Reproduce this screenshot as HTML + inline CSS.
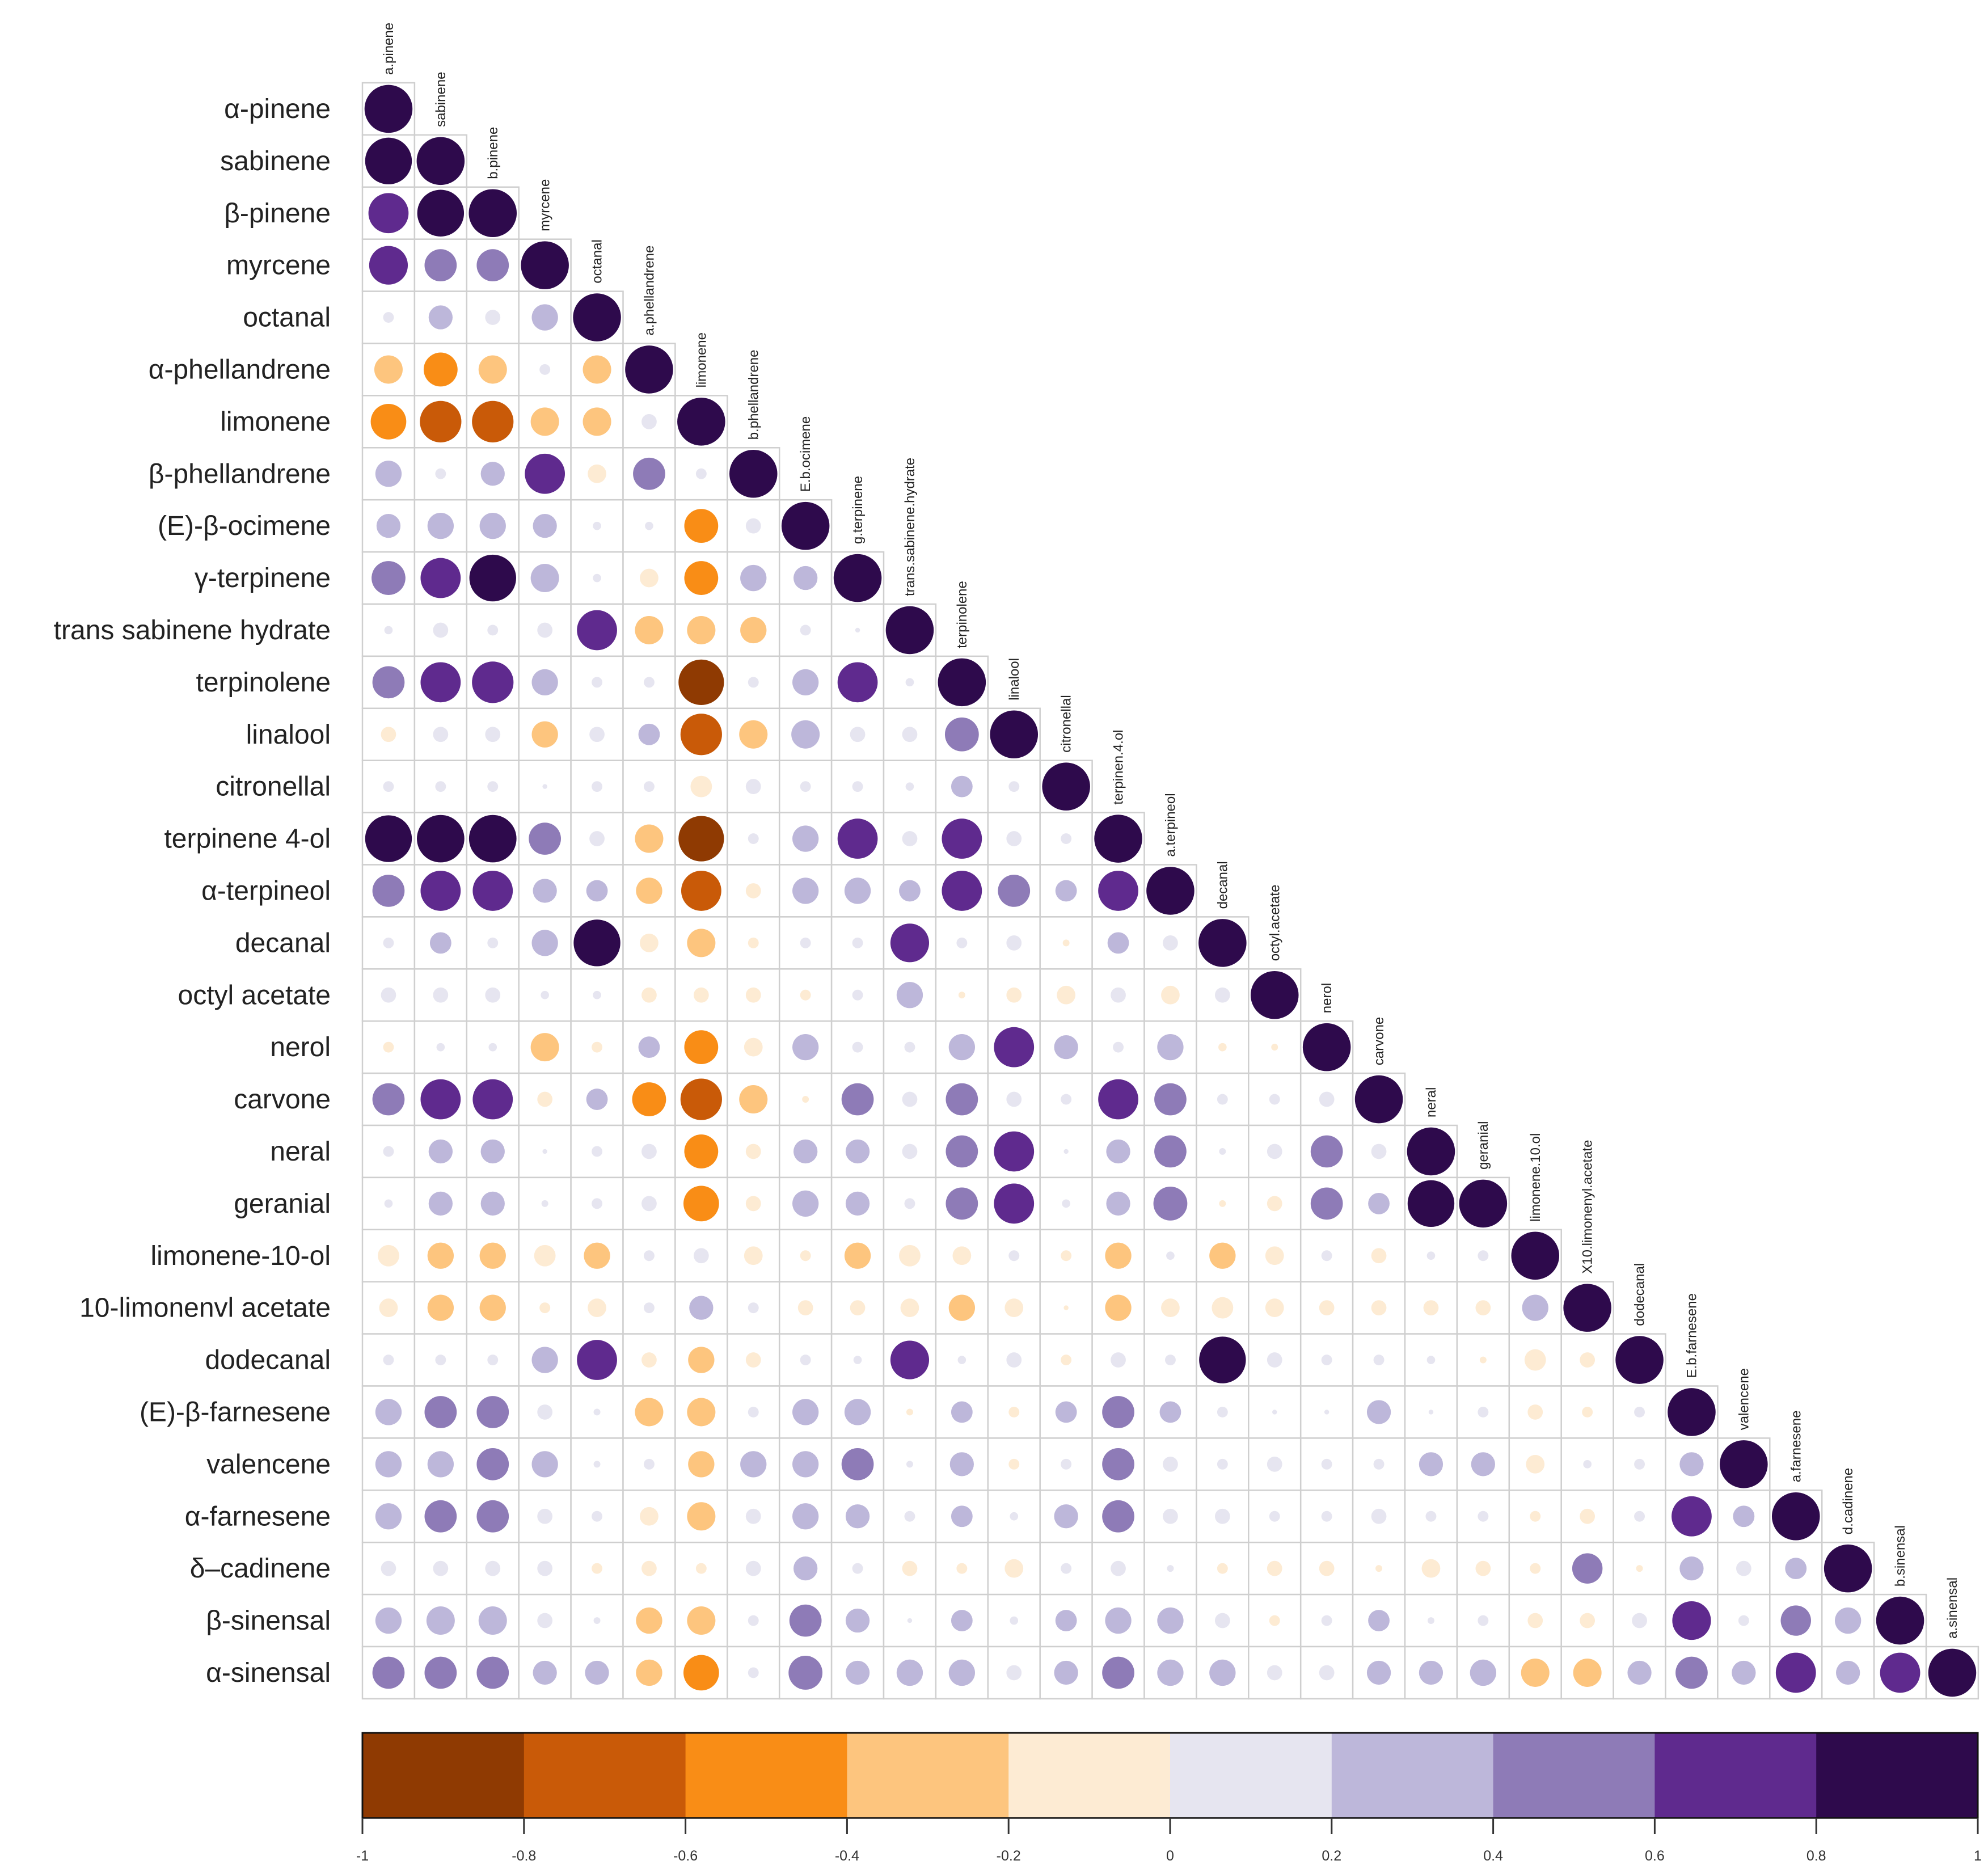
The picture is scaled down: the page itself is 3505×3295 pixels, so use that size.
<!DOCTYPE html>
<html><head><meta charset="utf-8"><style>
html,body{margin:0;padding:0;background:#fff;}
svg{display:block;}
</style></head><body>
<svg id="chart" width="3505" height="3295" viewBox="0 0 3505 3295" xmlns="http://www.w3.org/2000/svg"></svg>
<script>
const rowLabels = ["α-pinene","sabinene","β-pinene","myrcene","octanal","α-phellandrene","limonene","β-phellandrene","(E)-β-ocimene","γ-terpinene","trans sabinene hydrate","terpinolene","linalool","citronellal","terpinene 4-ol","α-terpineol","decanal","octyl acetate","nerol","carvone","neral","geranial","limonene-10-ol","10-limonenvl acetate","dodecanal","(E)-β-farnesene","valencene","α-farnesene","δ–cadinene","β-sinensal","α-sinensal"];
const colLabels = ["a.pinene","sabinene","b.pinene","myrcene","octanal","a.phellandrene","limonene","b.phellandrene","E.b.ocimene","g.terpinene","trans.sabinene.hydrate","terpinolene","linalool","citronellal","terpinen.4.ol","a.terpineol","decanal","octyl.acetate","nerol","carvone","neral","geranial","limonene.10.ol","X10.limonenyl.acetate","dodecanal","E.b.farnesene","valencene","a.farnesene","d.cadinene","b.sinensal","a.sinensal"];
const corr = [
[1],
[0.95,1],
[0.7,0.95,1],
[0.65,0.45,0.45,1],
[0.05,0.25,0.1,0.3,1],
[-0.35,-0.5,-0.35,0.05,-0.35,1],
[-0.55,-0.75,-0.75,-0.35,-0.35,0.1,1],
[0.3,0.05,0.25,0.7,-0.15,0.45,0.05,1],
[0.25,0.3,0.3,0.25,0.03,0.03,-0.5,0.1,1],
[0.5,0.7,0.95,0.35,0.03,-0.15,-0.5,0.3,0.25,1],
[0.03,0.1,0.05,0.1,0.7,-0.35,-0.35,-0.3,0.05,0.01,1],
[0.45,0.7,0.75,0.3,0.05,0.05,-0.9,0.05,0.3,0.7,0.03,1],
[-0.1,0.1,0.1,-0.3,0.1,0.2,-0.75,-0.35,0.35,0.1,0.1,0.5,1],
[0.05,0.05,0.05,0.01,0.05,0.05,-0.2,0.1,0.05,0.05,0.03,0.2,0.05,1],
[0.95,0.98,0.98,0.45,0.1,-0.35,-0.9,0.05,0.3,0.7,0.1,0.7,0.1,0.05,1],
[0.45,0.7,0.7,0.25,0.2,-0.3,-0.7,-0.1,0.3,0.3,0.2,0.7,0.45,0.2,0.7,1],
[0.05,0.2,0.05,0.3,0.95,-0.15,-0.35,-0.05,0.05,0.05,0.65,0.05,0.1,-0.02,0.2,0.1,1],
[0.1,0.1,0.1,0.03,0.03,-0.1,-0.1,-0.1,-0.05,0.05,0.3,-0.02,-0.1,-0.15,0.1,-0.15,0.1,1],
[-0.05,0.03,0.03,-0.35,-0.05,0.2,-0.5,-0.15,0.3,0.05,0.05,0.3,0.7,0.25,0.05,0.3,-0.03,-0.02,1],
[0.45,0.7,0.7,-0.1,0.2,-0.5,-0.75,-0.35,-0.02,0.45,0.1,0.45,0.1,0.05,0.7,0.45,0.05,0.05,0.1,1],
[0.05,0.25,0.25,0.01,0.05,0.1,-0.5,-0.1,0.25,0.25,0.1,0.45,0.7,0.01,0.25,0.45,0.02,0.1,0.45,0.1,1],
[0.03,0.25,0.25,0.02,0.05,0.1,-0.55,-0.1,0.3,0.25,0.05,0.45,0.7,0.03,0.25,0.5,-0.02,-0.1,0.45,0.2,0.95,1],
[-0.2,-0.3,-0.3,-0.2,-0.3,0.05,0.1,-0.15,-0.05,-0.3,-0.2,-0.15,0.05,-0.05,-0.3,0.03,-0.3,-0.15,0.05,-0.1,0.03,0.05,1],
[-0.15,-0.3,-0.3,-0.05,-0.15,0.05,0.25,0.05,-0.1,-0.1,-0.15,-0.3,-0.15,-0.01,-0.3,-0.15,-0.2,-0.15,-0.1,-0.1,-0.1,-0.1,0.3,1],
[0.05,0.05,0.05,0.3,0.7,-0.1,-0.3,-0.1,0.05,0.03,0.65,0.03,0.1,-0.05,0.1,0.05,0.95,0.1,0.05,0.05,0.03,-0.02,-0.2,-0.1,1],
[0.3,0.45,0.45,0.1,0.02,-0.35,-0.35,0.05,0.3,0.3,-0.02,0.2,-0.05,0.2,0.45,0.2,0.05,0.01,0.01,0.25,0.01,0.05,-0.1,-0.05,0.05,1],
[0.3,0.3,0.45,0.3,0.02,0.05,-0.3,0.3,0.3,0.45,0.02,0.25,-0.05,0.05,0.45,0.1,0.05,0.1,0.05,0.05,0.25,0.25,-0.15,0.03,0.05,0.25,1],
[0.3,0.45,0.45,0.1,0.05,-0.15,-0.35,0.1,0.3,0.25,0.05,0.2,0.03,0.25,0.45,0.1,0.1,0.05,0.05,0.1,0.05,0.05,-0.05,-0.1,0.05,0.7,0.2,1],
[0.1,0.1,0.1,0.1,-0.05,-0.1,-0.05,0.1,0.25,0.05,-0.1,-0.05,-0.15,0.05,0.1,0.02,-0.05,-0.1,-0.1,-0.02,-0.15,-0.1,-0.05,0.4,-0.02,0.25,0.1,0.2,1],
[0.3,0.35,0.35,0.1,0.02,-0.3,-0.35,0.05,0.45,0.25,0.01,0.2,0.03,0.2,0.3,0.3,0.1,-0.05,0.05,0.2,0.02,0.05,-0.1,-0.1,0.1,0.65,0.05,0.4,0.3,1],
[0.45,0.45,0.45,0.25,0.25,-0.3,-0.55,0.05,0.5,0.25,0.3,0.3,0.1,0.25,0.45,0.3,0.3,0.1,0.1,0.25,0.25,0.3,-0.35,-0.35,0.25,0.45,0.25,0.7,0.25,0.7,1]
];
const binColors = ["#8f3a02","#c95a08","#f98d16","#fdc57e","#fdebd3","#e6e5f0","#bdb7da","#8e7bb7","#5f2a8e","#2e0a4c"];
const tickLabels = ["-1","-0.8","-0.6","-0.4","-0.2","0","0.2","0.4","0.6","0.8","1"];

const NS="http://www.w3.org/2000/svg";
const svg=document.getElementById('chart');
const X0=639, Y0=146, CELL=91.9;
function xc(j){return X0+CELL*(j+0.5);}
function yc(i){return Y0+CELL*(i+0.5);}
function color(v){let b=Math.floor((v+1)/0.2+1e-9); if(b>9)b=9; if(b<0)b=0; return binColors[b];}
function mk(tag,attrs){const e=document.createElementNS(NS,tag);for(const k in attrs)e.setAttribute(k,attrs[k]);return e;}

const gGrid=mk('g',{});


svg.appendChild(gGrid);
for(let i=0;i<corr.length;i++){
  for(let j=0;j<=i;j++){
    const r=mk('rect',{x:X0+CELL*j,y:Y0+CELL*i,width:CELL,height:CELL,fill:'#fff',stroke:'#cfcfcf','stroke-width':2.5});
    
    
    gGrid.appendChild(r);
  }
}
for(let i=0;i<corr.length;i++){
  const row=corr[i];
  for(let j=0;j<row.length;j++){
    const v=row[j];
    const rad=CELL*0.46*Math.sqrt(Math.abs(v));
    const c=mk('circle',{cx:xc(j),cy:yc(i),r:rad,fill:color(v)});
    
    
    svg.appendChild(c);
  }
  const t=mk('text',{x:583,y:yc(i)+16,'text-anchor':'end','font-family':'"Liberation Sans", sans-serif','font-size':48,fill:'#222'});
  t.textContent=rowLabels[i];
  
  
  svg.appendChild(t);
  const ct=mk('text',{x:0,y:0,transform:`translate(${xc(i)+8},${Y0+CELL*i-14}) rotate(-90)`,'font-family':'"Liberation Sans", sans-serif','font-size':24,fill:'#222'});
  ct.textContent=colLabels[i];
  
  
  svg.appendChild(ct);
}
// colorbar
const CB0=639, CB1=3487, CBY=3055, CBH=150;
function cbx(v){return CB0+(v+1)/2*(CB1-CB0);}
for(let b=0;b<binColors.length;b++){
  const v0=-1+b*0.2;
  const r=mk('rect',{x:cbx(v0),y:CBY,width:cbx(v0+0.2)-cbx(v0)+0.5,height:CBH,fill:binColors[b]});
  
  
  svg.appendChild(r);
}
const fr=mk('rect',{x:CB0,y:CBY,width:CB1-CB0,height:CBH,fill:'none',stroke:'#111','stroke-width':3});


svg.appendChild(fr);
for(let k=0;k<tickLabels.length;k++){
  const v=parseFloat(tickLabels[k]);
  const l=mk('line',{x1:cbx(v),x2:cbx(v),y1:CBY+CBH,y2:CBY+CBH+28,stroke:'#333','stroke-width':3});
  
  
  svg.appendChild(l);
  const t=mk('text',{x:cbx(v),y:3280,'text-anchor':'middle','font-family':'"Liberation Sans", sans-serif','font-size':25,fill:'#333'});
  t.textContent=tickLabels[k];
  
  
  svg.appendChild(t);
}
</script>
</body></html>
